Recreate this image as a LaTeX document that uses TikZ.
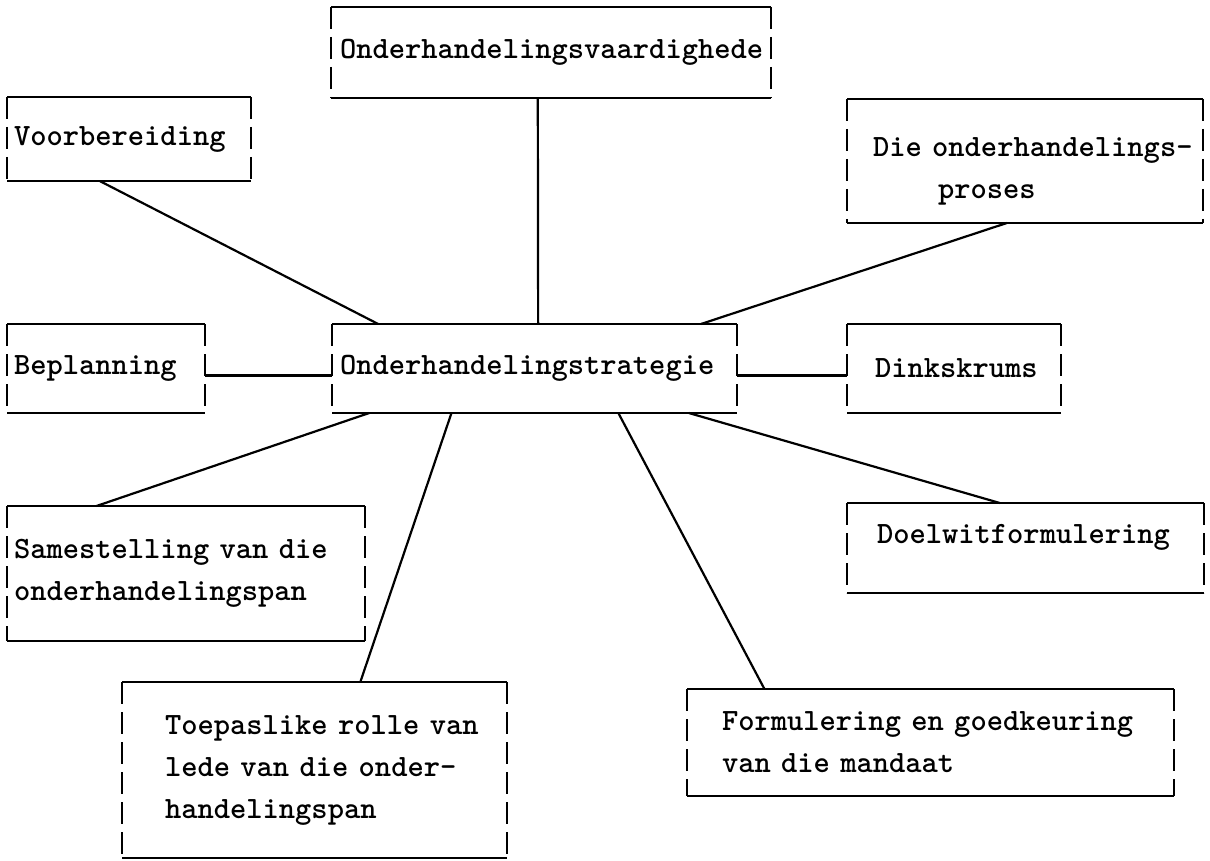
\documentclass[tikz,border=0pt]{standalone}
\usetikzlibrary{calc}

\begin{document}
\begin{tikzpicture}[x=1pt, y=-1pt, line width=2pt]
        \tikzset{
          tbox/.style={align=left, inner ysep=0pt, font=\ttfamily\bfseries\fontsize{31}{42}\selectfont},
          side/.style={dash pattern=on 22pt off 8pt},
          lnk/.style={line width=2.2pt}
        }
        \useasboundingbox (0,0) rectangle (1210,861);
        %% --- boxes ---
        \node[tbox, minimum width=438pt, minimum height=89pt,  inner xsep=8pt,  text width=422pt] (vaard) at (551,52.5)    {\mbox{Onderhandelingsvaardighede}};
        \node[tbox, minimum width=242pt, minimum height=82pt,  inner xsep=6pt,  text width=230pt] (voor)  at (129,139)     {\mbox{Voorbereiding}};
        \node[tbox, minimum width=354pt, minimum height=122pt, inner xsep=25pt, text width=304pt] (proses) at (1025,161)   {\rule{0pt}{40pt}\mbox{Die onderhandelings-}\\\hspace*{65pt}proses};
        \node[tbox, minimum width=196pt, minimum height=87pt,  inner xsep=6pt,  text width=184pt] (bepl)  at (106,368.5)   {\mbox{Beplanning}};
        \node[tbox, minimum width=403pt, minimum height=87pt,  inner xsep=7pt,  text width=389pt] (strat) at (534.5,368.5) {\mbox{Onderhandelingstrategie}};
        \node[tbox, minimum width=212pt, minimum height=87pt,  inner xsep=27pt, text width=158pt] (dink)  at (954,368.5)   {\mbox{Dinkskrums}};
        \node[tbox, minimum width=356pt, minimum height=133pt, inner xsep=6pt,  text width=344pt] (same)  at (186,573.5)   {\mbox{Samestelling van die}\\\mbox{onderhandelingspan}};
        \node[tbox, minimum width=355pt, minimum height=88pt,  inner xsep=29pt, text width=297pt] (doel)  at (1025.5,548)  {\mbox{Doelwitformulering}\\[-13pt]\mbox{}};
        \node[tbox, minimum width=383pt, minimum height=174pt, inner xsep=42pt, text width=299pt] (toep)  at (314.5,770)   {\mbox{Toepaslike rolle van}\\\mbox{lede van die onder-}\\\mbox{handelingspan}};
        \node[tbox, minimum width=485pt, minimum height=105pt, inner xsep=34pt, text width=417pt] (form)  at (930.5,742.5) {\mbox{Formulering en goedkeuring}\\\mbox{van die mandaat}};
        %% --- borders ---
        \foreach \n in {vaard,voor,proses,bepl,strat,dink,same,doel,toep,form}{
          \draw (\n.north west) -- (\n.north east);
          \draw (\n.south west) -- (\n.south east);
          \draw[side] (\n.north west) -- (\n.south west);
          \draw[side] (\n.north east) -- (\n.south east);
        }
        %% --- links ---
        \draw[lnk] ($(vaard.south west)!.470!(vaard.south east)$) -- ($(strat.north west)!.509!(strat.north east)$);
        \draw[lnk] ($(voor.south west)!.38!(voor.south east)$) -- ($(strat.north west)!.114!(strat.north east)$);
        \draw[lnk] ($(proses.south west)!.449!(proses.south east)$) -- ($(strat.north west)!.911!(strat.north east)$);
        \draw[lnk] ([yshift=-7pt]bepl.east) -- ([yshift=-7pt]strat.west);
        \draw[lnk] ([yshift=-7pt]strat.east) -- ([yshift=-7pt]dink.west);
        \draw[lnk] ($(strat.south west)!.092!(strat.south east)$) -- ($(same.north west)!.25!(same.north east)$);
        \draw[lnk] ($(strat.south west)!.295!(strat.south east)$) -- ($(toep.north west)!.619!(toep.north east)$);
        \draw[lnk] ($(strat.south west)!.707!(strat.south east)$) -- ($(form.north west)!.159!(form.north east)$);
        \draw[lnk] ($(strat.south west)!.881!(strat.south east)$) -- ($(doel.north west)!.428!(doel.north east)$);
    \end{tikzpicture}
\end{document}
